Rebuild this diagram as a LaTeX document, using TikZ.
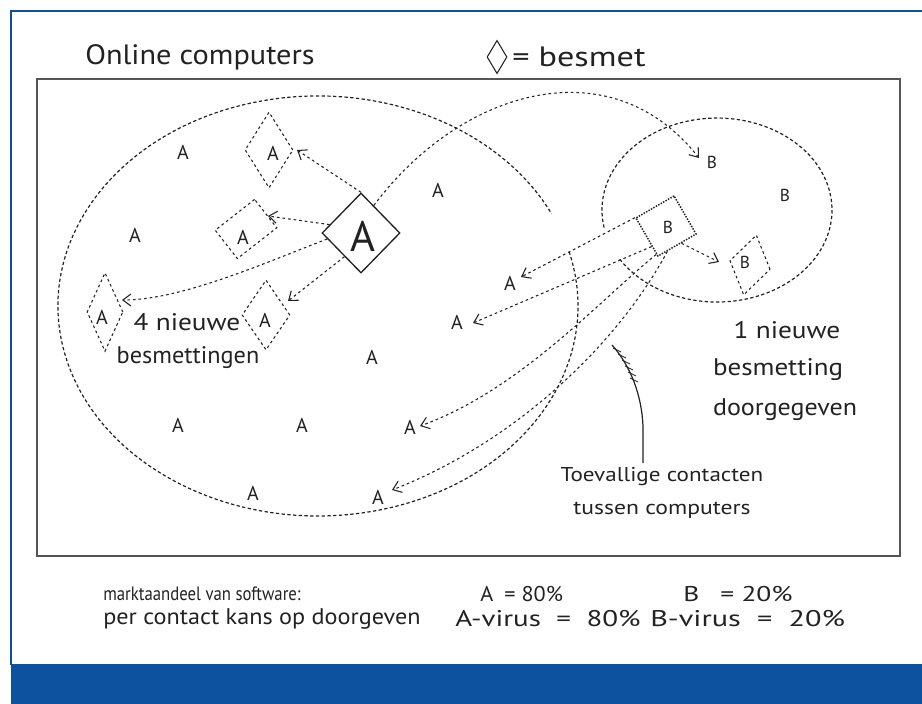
\documentclass[tikz,border=0pt]{standalone}
\usepackage{graphicx}
\usepackage{fontspec}
\setmainfont{PT Sans}
\usetikzlibrary{shapes.geometric,arrows.meta}
\definecolor{frameblue}{HTML}{0C529E}
\definecolor{ink}{HTML}{222222}
\definecolor{boxline}{HTML}{555555}
\newcommand{\fitwd}[2]{\resizebox{#1}{\height}{#2}}
\begin{document}
\begin{tikzpicture}[x=0.75pt,y=-0.75pt,
  every node/.style={text=ink, inner sep=0pt},
  ltr/.style={font=\fontsize{15}{15}\selectfont},
  sltr/.style={font=\fontsize{13}{13}\selectfont},
  bigltr/.style={font=\fontsize{32}{32}\selectfont},
  txt/.style={font=\fontsize{18}{20}\selectfont},
  ttl/.style={font=\fontsize{21}{24}\selectfont},
  foot/.style={font=\fontsize{16}{18}\selectfont, anchor=west},
  foottwo/.style={font=\fontsize{17}{19}\selectfont, anchor=west},
  ell/.style={draw=ink, line width=0.9pt, dash pattern=on 2.5pt off 1.8pt},
  dsh/.style={draw=ink, line width=0.8pt, dash pattern=on 2pt off 2.2pt},
  arr/.style={dsh, -{Straight Barb[length=6pt,width=9pt]}},
  ddia/.style={diamond, dsh},
]
\useasboundingbox (0,0) rectangle (922,704);
% blue frame
\fill[frameblue] (11,664) rectangle (922,704);
\draw[frameblue, line width=2.2pt] (11,665) -- (11,11) -- (922,11);
% outer box
\draw[boxline, line width=1.4pt] (37,79) rectangle (900,556);
% heading
\node[ttl] (title) at (200,57) {\fitwd{172pt}{Online computers}};
\node[diamond, draw=ink, line width=0.8pt, minimum width=15pt, minimum height=25pt] (leg) at (497,57) {};
\node[ttl, anchor=west] (legt) at (512,57) {\fitwd{100pt}{= besmet}};
% ellipses
\draw[ell] (569.1,251.6) arc[start angle=-15, end angle=334, x radius=260, y radius=210];
\draw[ell] (604.1,227.6) arc[start angle=169, end angle=509, x radius=115, y radius=92];
% infected diamonds (A)
\node[diamond, draw=ink, line width=1pt, minimum width=58.5pt, minimum height=60pt] (bA) at (361,233) {};
\node[bigltr] (bAl) at (363,236) {A};
\node[ddia, minimum width=36pt, minimum height=57pt] (d1) at (269,150) {};
\node[dsh, rotate=38, minimum width=37.5pt, minimum height=27pt] (d2) at (246,229) {};
\node[ddia, minimum width=27pt, minimum height=59pt] (d3) at (105,312) {};
\node[ddia, minimum width=36pt, minimum height=52.5pt] (d4) at (266,315) {};
% B diamonds
\node[draw=ink, line width=1.1pt, densely dotted, rotate=30, minimum size=33pt] (bB) at (666,226) {};
\node[sltr] (bBl) at (668,227) {B};
\node[ddia, rotate=-12, minimum width=31pt, minimum height=46pt] (dB2) at (750,265) {};
\node[sltr] (b2) at (745,262) {B};
\node[sltr] (bs) at (712,162) {B};
\node[sltr] (b3) at (785,195) {B};
% A letters
\node[ltr] (a1) at (273,153) {A};
\node[ltr] (a2) at (243,237) {A};
\node[ltr] (a3) at (102,317) {A};
\node[ltr] (a4) at (265,320) {A};
\node[ltr] (a5) at (510,283) {A};
\node[ltr] (a6) at (457,322) {A};
\node[ltr] (a7) at (410,427) {A};
\node[ltr] (a8) at (378,497) {A};
\node[ltr] (a9) at (183,152) {A};
\node[ltr] (a10) at (135,235) {A};
\node[ltr] (a11) at (438,190) {A};
\node[ltr] (a12) at (372,357) {A};
\node[ltr] (a13) at (178,425) {A};
\node[ltr] (a14) at (302,425) {A};
\node[ltr] (a15) at (253,493) {A};
% arrow tips
\coordinate (t1) at (297,150);
\coordinate (t2) at (268,216);
\coordinate (t3) at (122,300);
\coordinate (t4) at (288,301);
\coordinate (tB) at (699,158);
\coordinate (tB2) at (719,262);
\coordinate (t5) at (521,277);
\coordinate (t6) at (473,323);
\coordinate (t7) at (420,426);
\coordinate (t8) at (392,490);
% arrows from A
\draw[arr] (bA.north) -- (t1);
\draw[arr] (bA.65) .. controls (460,90) and (610,45) .. (tB);
\draw[arr] (bA.165) -- (t2);
\draw[arr] (bA.190) .. controls (260,265) and (180,300) .. (t3);
\draw[arr] (bA.235) -- (t4);
% arrows from B
\draw[arr] (bB.135) -- (t5);
\draw[arr] (bB.205) -- (t6);
\draw[arr] (bB.221) .. controls (600,300) and (520,390) .. (t7);
\draw[arr] (bB.243) .. controls (620,340) and (520,440) .. (t8);
\draw[arr] (bB.282) -- (tB2);
% labels
\node[txt] (n4a) at (187,322) {\fitwd{80pt}{4 nieuwe}};
\node[txt] (n4b) at (188,358) {\fitwd{107pt}{besmettingen}};
\node[txt] (n1a) at (787,330) {\fitwd{80pt}{1 nieuwe}};
\node[txt] (n1b) at (778,370) {\fitwd{97.5pt}{besmetting}};
\node[txt] (n1c) at (785,410) {\fitwd{108pt}{doorgegeven}};
\node[txt, font=\fontsize{15}{17}\selectfont] (tc1) at (662,477) {\fitwd{152pt}{Toevallige contacten}};
\node[txt, font=\fontsize{15}{17}\selectfont] (tc2) at (662,510) {\fitwd{133pt}{tussen computers}};
\coordinate (lead) at (612,345);
\draw[ink, line width=0.9pt] (643,463) -- (643,427) .. controls (642,395) and (630,365) .. (lead);
\foreach \xx/\yy in {617/350,622/356,626/362,629/368,632/374,634/380}
  \draw[ink, line width=0.6pt] (\xx-4,\yy-2) -- (\xx+4,\yy+2);
% footer
\node[foot, font=\fontsize{14.5}{17}\selectfont] (f1) at (103,594) {\fitwd{148pt}{marktaandeel van software:}};
\node[foot] (f2) at (480,594) {\fitwd{62pt}{A\enspace = 80\%}};
\node[foot] (f3) at (683,594) {\fitwd{82pt}{B\enspace\ = 20\%}};
\node[foottwo] (f4) at (103,619) {\fitwd{238pt}{per contact kans op doorgeven}};
\node[foottwo] (f5) at (455,619) {\fitwd{139pt}{A-virus\ \ =\ \ 80\%}};
\node[foottwo] (f6) at (650,619) {\fitwd{146pt}{B-virus\ \ =\ \ 20\%}};
\end{tikzpicture}
\end{document}
